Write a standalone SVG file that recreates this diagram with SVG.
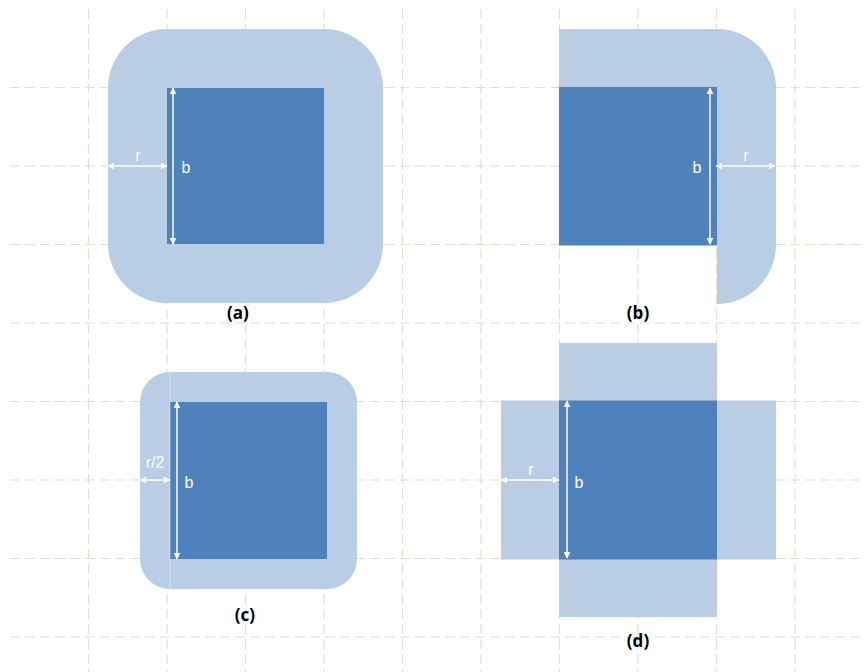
<svg xmlns="http://www.w3.org/2000/svg" width="865" height="672" viewBox="0 0 865 672">
<style>
.grid{stroke:#e2dfcc;stroke-width:1.2;stroke-dasharray:10 5;fill:none}
.light{fill:#b9cde5}
.dark{fill:#4f81bd}
.dim{stroke:#ffffff;stroke-width:1.5;fill:none;marker-start:url(#ah);marker-end:url(#ah)}
.lbl{font-family:"Liberation Sans",Arial,sans-serif;font-size:16px;fill:#ffffff}
.cap{font-family:"Open Sans","Liberation Sans",Arial,sans-serif;font-size:17px;font-weight:bold;fill:#000000;text-anchor:middle}
</style>
<defs>
<marker id="ah" viewBox="0 0 10 10" refX="9" refY="5" markerWidth="7" markerHeight="7" markerUnits="userSpaceOnUse" orient="auto-start-reverse">
<path d="M0,0 L10,5 L0,10 Z" fill="#ffffff"/>
</marker>
</defs>
<rect width="865" height="672" fill="#ffffff"/>
<g id="grid">
<line class="grid" x1="88.5" y1="9" x2="88.5" y2="672"/>
<line class="grid" x1="167" y1="9" x2="167" y2="672"/>
<line class="grid" x1="245.5" y1="9" x2="245.5" y2="672"/>
<line class="grid" x1="324" y1="9" x2="324" y2="672"/>
<line class="grid" x1="402.5" y1="9" x2="402.5" y2="672"/>
<line class="grid" x1="481" y1="9" x2="481" y2="672"/>
<line class="grid" x1="559.5" y1="9" x2="559.5" y2="672"/>
<line class="grid" x1="638" y1="9" x2="638" y2="672"/>
<line class="grid" x1="716.5" y1="9" x2="716.5" y2="672"/>
<line class="grid" x1="795" y1="9" x2="795" y2="672"/>
<line class="grid" x1="10" y1="87.5" x2="865" y2="87.5"/>
<line class="grid" x1="10" y1="166" x2="865" y2="166"/>
<line class="grid" x1="10" y1="244.5" x2="865" y2="244.5"/>
<line class="grid" x1="10" y1="323" x2="865" y2="323"/>
<line class="grid" x1="10" y1="401.5" x2="865" y2="401.5"/>
<line class="grid" x1="10" y1="480" x2="865" y2="480"/>
<line class="grid" x1="10" y1="558.5" x2="865" y2="558.5"/>
<line class="grid" x1="10" y1="637" x2="865" y2="637"/>
</g>
<g id="node-a">
<rect class="light" x="108" y="29" width="275" height="274" rx="59" ry="59"/>
<rect class="dark" x="167" y="88" width="157" height="156"/>
<text class="lbl" x="138" y="161" text-anchor="middle">r</text>
<text class="lbl" x="186" y="173" text-anchor="middle">b</text>
<text class="cap" x="238" y="319">(a)</text>
</g>
<g id="node-b">
<path class="light" d="M559,29 H717 A59,59 0 0 1 776,88 V245 A59,59 0 0 1 717,304 V88 H559 Z"/>
<rect class="dark" x="559" y="87" width="158" height="158.5"/>
<text class="lbl" x="697" y="173" text-anchor="middle">b</text>
<text class="lbl" x="746" y="161" text-anchor="middle">r</text>
<text class="cap" x="638" y="319">(b)</text>
</g>
<g id="node-c">
<rect class="light" x="140" y="372" width="217" height="217" rx="30" ry="30"/>
<rect class="dark" x="170" y="402" width="157" height="157"/>
<line x1="170" y1="372" x2="170" y2="589" stroke="#ffffff" stroke-opacity="0.45" stroke-width="1"/>
<text class="lbl" x="155" y="468" text-anchor="middle">r/2</text>
<text class="lbl" x="189" y="488" text-anchor="middle">b</text>
<text class="cap" x="245" y="621">(c)</text>
</g>
<g id="node-d">
<rect class="light" x="559" y="343" width="158" height="59"/>
<rect class="light" x="559" y="558" width="158" height="59"/>
<rect class="light" x="501" y="400.5" width="59" height="159"/>
<rect class="light" x="716" y="400.5" width="60" height="159"/>
<rect class="dark" x="559" y="400.5" width="158" height="159"/>
<text class="lbl" x="531" y="475" text-anchor="middle">r</text>
<text class="lbl" x="579" y="488" text-anchor="middle">b</text>
<text class="cap" x="638" y="647">(d)</text>
</g>
<g id="connectors">
<line class="dim" x1="173" y1="88" x2="173" y2="244"/>
<line class="dim" x1="108" y1="166" x2="167" y2="166"/>
<line class="dim" x1="710" y1="88" x2="710" y2="244"/>
<line class="dim" x1="716" y1="166" x2="775" y2="166"/>
<line class="dim" x1="177" y1="402" x2="177" y2="559"/>
<line class="dim" x1="140" y1="480" x2="170" y2="480"/>
<line class="dim" x1="567" y1="401" x2="567" y2="558"/>
<line class="dim" x1="501" y1="480" x2="559" y2="480"/>
</g>
</svg>
